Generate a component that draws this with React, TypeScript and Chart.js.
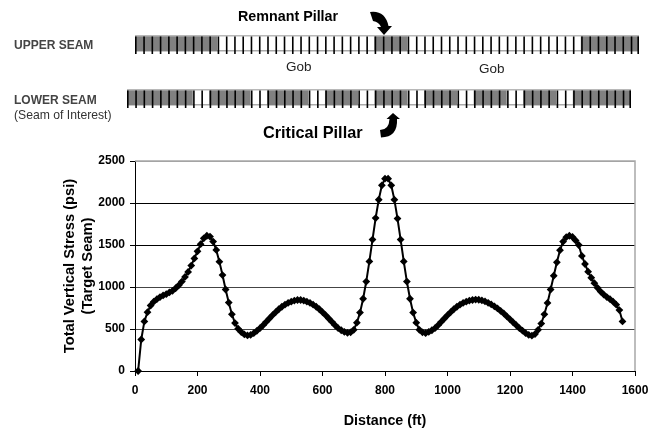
import React, { useEffect, useRef } from "react";
import { Chart, registerables } from "chart.js";

Chart.register(...registerables);

const distances = [
  10, 20, 30, 40, 50, 60, 70, 80, 90, 100, 110, 120, 130, 140, 150, 160, 170, 180, 190, 200,
  210, 220, 230, 240, 250, 260, 270, 280, 290, 300, 310, 320, 330, 340, 350, 360, 370, 380, 390, 400,
  410, 420, 430, 440, 450, 460, 470, 480, 490, 500, 510, 520, 530, 540, 550, 560, 570, 580, 590, 600,
  610, 620, 630, 640, 650, 660, 670, 680, 690, 700, 710, 720, 730, 740, 750, 760, 770, 780, 790, 800,
  810, 820, 830, 840, 850, 860, 870, 880, 890, 900, 910, 920, 930, 940, 950, 960, 970, 980, 990, 1000,
  1010, 1020, 1030, 1040, 1050, 1060, 1070, 1080, 1090, 1100, 1110, 1120, 1130, 1140, 1150, 1160, 1170, 1180, 1190, 1200,
  1210, 1220, 1230, 1240, 1250, 1260, 1270, 1280, 1290, 1300, 1310, 1320, 1330, 1340, 1350, 1360, 1370, 1380, 1390, 1400,
  1410, 1420, 1430, 1440, 1450, 1460, 1470, 1480, 1490, 1500, 1510, 1520, 1530, 1540, 1550, 1560,
];

const stress = [
  0, 375, 590, 700, 780, 825, 855, 880, 900, 915, 935, 955, 985, 1020, 1065, 1120, 1180, 1255, 1340, 1425,
  1510, 1580, 1610, 1600, 1541, 1441, 1302, 1142, 970, 815, 675, 571, 503, 463, 435, 423, 430, 450, 478, 510,
  545, 585, 625, 665, 700, 735, 765, 790, 810, 825, 838, 845, 845, 838, 825, 810, 790, 765, 735, 700,
  665, 625, 585, 545, 510, 485, 465, 455, 460, 490, 575, 695, 860, 1065, 1305, 1565, 1820, 2040, 2210, 2290,
  2290, 2210, 2040, 1815, 1565, 1305, 1065, 860, 695, 575, 490, 460, 450, 465, 485, 510, 545, 585, 625, 665,
  700, 735, 765, 790, 810, 825, 838, 845, 850, 848, 840, 828, 812, 792, 770, 745, 715, 685, 650, 615,
  580, 545, 510, 480, 450, 430, 420, 440, 490, 565, 675, 810, 970, 1134, 1294, 1438, 1541, 1593, 1610, 1595,
  1555, 1500, 1370, 1274, 1182, 1110, 1045, 990, 945, 910, 880, 855, 825, 790, 725, 590,
];

const yTitle = ["Total Vertical Stress (psi)", "(Target Seam)"];
const xTitle = "Distance (ft)";

// Run lengths of pillar (1) and gob (0) cells along each seam.
const upperRuns = [[1, 10], [0, 19], [1, 4], [0, 21], [1, 7]];
const lowerRuns = [
  [1, 8], [0, 2], [1, 5], [0, 2], [1, 5], [0, 2], [1, 4], [0, 2], [1, 4],
  [0, 2], [1, 4], [0, 2], [1, 4], [0, 2], [1, 4], [0, 2], [1, 7],
];

const expand = (runs: number[][]) => runs.flatMap(([v, n]) => Array(n).fill(v));

const FONT = '"Liberation Sans", Arial, sans-serif';

const annotate = {
  id: "annotate",
  afterDraw(chart: any) {
    const { ctx, chartArea: a } = chart;
    ctx.save();
    ctx.strokeStyle = "#a8a8a8";
    ctx.lineWidth = 1.5;
    ctx.beginPath();
    ctx.moveTo(a.left, a.top);
    ctx.lineTo(a.right, a.top);
    ctx.lineTo(a.right, a.bottom);
    ctx.stroke();

    ctx.textBaseline = "alphabetic";
    const text = (s: string, x: number, y: number, font: string, color = "#000") => {
      ctx.font = font + " " + FONT;
      ctx.fillStyle = color;
      ctx.fillText(s, x, y);
    };
    text("Remnant Pillar", 238, 20.5, "bold 14.3px");
    text("UPPER SEAM", 14, 49, "bold 12px", "#444");
    text("Gob", 286, 71, "13.5px", "#222");
    text("Gob", 479, 73, "13.5px", "#222");
    text("LOWER SEAM", 14, 104, "bold 12px", "#444");
    text("(Seam of Interest)", 14, 119, "12.2px", "#333");
    text("Critical Pillar", 263, 138, "bold 16.3px");

    ctx.fillStyle = "#000";
    // remnant pillar arrow
    ctx.beginPath();
    ctx.moveTo(370, 12);
    ctx.quadraticCurveTo(385, 10, 388.5, 26);
    ctx.lineTo(392, 26);
    ctx.lineTo(384, 35);
    ctx.lineTo(377, 27);
    ctx.lineTo(381, 27);
    ctx.quadraticCurveTo(379, 22, 373, 21);
    ctx.closePath();
    ctx.fill();
    // critical pillar arrow
    ctx.beginPath();
    ctx.moveTo(380, 130);
    ctx.quadraticCurveTo(389, 130, 389.5, 119);
    ctx.lineTo(386.5, 119);
    ctx.lineTo(393, 113);
    ctx.lineTo(400, 119);
    ctx.lineTo(397, 119);
    ctx.quadraticCurveTo(398, 137, 381, 137.5);
    ctx.closePath();
    ctx.fill();
    ctx.restore();
  },
};

const seamLines = {
  id: "seamLines",
  afterDatasetsDraw(chart: any) {
    const { ctx, chartArea: a, scales } = chart;
    const bars = chart.getDatasetMeta(0).data;
    const bottom = scales.y.getPixelForValue(0);
    ctx.save();
    ctx.strokeStyle = "#b8b8b8";
    ctx.lineWidth = 1.5;
    ctx.beginPath();
    ctx.moveTo(a.left, a.top + 0.75);
    ctx.lineTo(a.right, a.top + 0.75);
    ctx.stroke();
    ctx.strokeStyle = "#808080";
    ctx.lineWidth = 1;
    ctx.beginPath();
    ctx.moveTo(a.left, bottom);
    ctx.lineTo(a.right, bottom);
    ctx.stroke();
    ctx.strokeStyle = "#000";
    ctx.lineWidth = 1.6;
    ctx.beginPath();
    bars.forEach((b: any) => {
      const x = b.x - b.width / 2;
      ctx.moveTo(x + 0.8, a.top + 1.5);
      ctx.lineTo(x + 0.8, a.bottom);
    });
    ctx.moveTo(a.right - 0.8, a.top + 1.5);
    ctx.lineTo(a.right - 0.8, a.bottom);
    ctx.stroke();
    ctx.restore();
  },
};

function Seam({ runs, left, top }: { runs: number[][]; left: number; top: number }) {
  const ref = useRef<HTMLCanvasElement>(null);
  useEffect(() => {
    const cells = expand(runs);
    const chart = new Chart(ref.current!, {
      type: "bar",
      data: {
        labels: cells.map((_, i) => i + 1),
        datasets: [
          {
            data: cells.map(() => 1),
            backgroundColor: cells.map((c) => (c ? "#808080" : "#ffffff")),
            barPercentage: 1,
            categoryPercentage: 1,
            borderWidth: 0,
          },
        ],
      },
      options: {
        animation: false,
        responsive: false,
        plugins: { legend: { display: false }, tooltip: { enabled: false } },
        scales: {
          x: { display: false },
          y: { display: false, min: -0.2, max: 1 },
        },
      },
      plugins: [seamLines],
    });
    return () => chart.destroy();
  }, [runs]);
  return (
    <canvas
      ref={ref}
      width={504}
      height={19}
      style={{ position: "absolute", left, top, width: 504, height: 19 }}
    />
  );
}

export default function App() {
  const ref = useRef<HTMLCanvasElement>(null);
  useEffect(() => {
    const chart = new Chart(ref.current!, {
      type: "scatter",
      data: {
        datasets: [
          {
            data: distances.map((x, i) => ({ x, y: stress[i] })),
            showLine: true,
            borderColor: "#000",
            borderWidth: 2,
            backgroundColor: "#000",
            pointStyle: "rectRot",
            pointRadius: 3.9,
            pointBorderWidth: 0,
            pointBackgroundColor: "#000",
            clip: false,
          },
        ],
      },
      options: {
        animation: false,
        responsive: false,
        layout: { padding: { left: 61, top: 161, right: 25, bottom: 0 } },
        plugins: { legend: { display: false }, tooltip: { enabled: false } },
        scales: {
          x: {
            type: "linear",
            min: 0,
            max: 1600,
            ticks: {
              stepSize: 200,
              maxRotation: 0,
              color: "#000",
              padding: 7,
              font: { family: FONT, size: 12, weight: "bold" },
              callback: (v: any) => String(v),
            },
            grid: { drawOnChartArea: false, color: "#000", tickLength: 5 },
            border: { color: "#000", width: 1 },
            title: {
              display: true,
              text: xTitle,
              color: "#000",
              padding: { top: 11, bottom: 0 },
              font: { family: FONT, size: 14.3, weight: "bold" },
            },
            afterFit: (s: any) => {
              s.height = 59;
            },
          },
          y: {
            min: 0,
            max: 2500,
            ticks: {
              stepSize: 500,
              color: "#000",
              padding: 5,
              font: { family: FONT, size: 12, weight: "bold" },
              callback: (v: any) => String(v),
            },
            grid: {
              color: (c: any) => (c.tick?.value >= 2500 ? "#999" : c.tick?.value >= 1500 ? "#000" : "#444"),
              tickColor: "#000",
              tickLength: 5,
            },
            border: { color: "#000", width: 1 },
            title: {
              display: true,
              text: yTitle,
              color: "#000",
              padding: { top: 0, bottom: 6 },
              font: { family: FONT, size: 14.7, weight: "bold" },
            },
            afterFit: (s: any) => {
              s.width = 74;
            },
          },
        },
      },
      plugins: [annotate],
    });
    return () => chart.destroy();
  }, []);
  return (
    <div style={{ position: "absolute", left: 0, top: 0, width: 660, height: 430, background: "#fff" }}>
      <canvas ref={ref} width={660} height={430} style={{ position: "absolute", left: 0, top: 0 }} />
      <Seam runs={upperRuns} left={135} top={35} />
      <Seam runs={lowerRuns} left={127} top={89} />
    </div>
  );
}
